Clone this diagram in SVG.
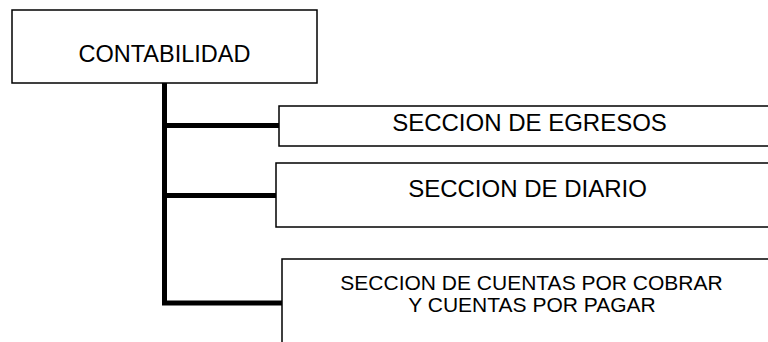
<svg xmlns="http://www.w3.org/2000/svg" width="768" height="342" viewBox="0 0 768 342">
<style>
.box{fill:#fff;stroke:#000;stroke-width:1.5}
.lbl{font-family:"Liberation Sans",Arial,sans-serif;fill:#000;text-anchor:middle}
.conn{stroke:#000;stroke-width:5;fill:none}
</style>
<rect width="768" height="342" fill="#fff"/>
<g id="connectors">
<path class="conn" d="M164.5 83 V303 H282"/>
<path class="conn" d="M164.5 125.5 H279"/>
<path class="conn" d="M164.5 195.5 H276"/>
</g>
<g id="contabilidad">
<rect class="box" x="12" y="10" width="305" height="73"/>
<text class="lbl" x="164.5" y="61.7" font-size="23.5">CONTABILIDAD</text>
</g>
<g id="egresos">
<rect class="box" x="279" y="106" width="500" height="40"/>
<text class="lbl" x="529.5" y="131" font-size="24">SECCION DE EGRESOS</text>
</g>
<g id="diario">
<rect class="box" x="276" y="163" width="500" height="64"/>
<text class="lbl" x="527.5" y="196.7" font-size="24">SECCION DE DIARIO</text>
</g>
<g id="cuentas">
<rect class="box" x="282" y="259" width="500" height="100"/>
<text class="lbl" x="531.5" y="289.5" font-size="21">SECCION DE CUENTAS POR COBRAR</text>
<text class="lbl" x="532" y="311.5" font-size="21">Y CUENTAS POR PAGAR</text>
</g>
</svg>
